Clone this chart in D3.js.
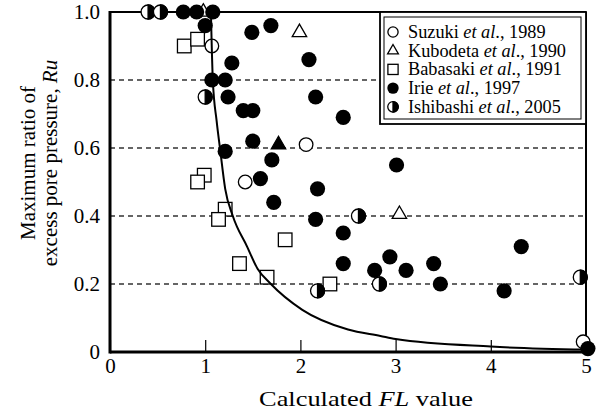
<!DOCTYPE html>
<html lang="en">
<head>
    <meta charset="UTF-8">
    <title>Ru vs FL</title>
    <script src="https://d3js.org/d3.v7.min.js"></script>
    <style>
        body { margin: 0; background: #fff; }
        svg text { font-family: "Liberation Serif", "DejaVu Serif", serif !important; }
    </style>
</head>
<body>

    <svg width="608" height="414"></svg>

    <script>
        // Tick values for both axes
        const flTicks = [0, 1, 2, 3, 4, 5];
        const ruTicks = [0, 0.2, 0.4, 0.6, 0.8, 1.0];
        const gridRu = [0.2, 0.4, 0.6, 0.8];

        // Data: [FL, Ru]
        const suzuki = [[1.07, 0.90], [1.42, 0.50], [2.06, 0.61], [4.97, 0.03]];
        const kubodeta = [[0.98, 1.0], [1.99, 0.94], [3.04, 0.405]];
        const kubodetaDark = [[1.77, 0.61]];
        const babasaki = [
            [0.78, 0.90], [0.92, 0.92], [0.99, 0.52], [0.92, 0.50], [1.21, 0.42],
            [1.14, 0.39], [1.84, 0.33], [1.36, 0.26], [1.65, 0.22], [2.31, 0.20]
        ];
        const irie = [
            [0.77, 1.0], [0.91, 1.0], [1.08, 1.0], [1.00, 0.96], [1.28, 0.85],
            [1.07, 0.80], [1.21, 0.80], [1.24, 0.75], [1.40, 0.71], [1.50, 0.71],
            [1.49, 0.94], [1.69, 0.96], [2.09, 0.86], [2.16, 0.75], [2.45, 0.69],
            [1.50, 0.62], [1.21, 0.59], [1.70, 0.565], [1.58, 0.51], [1.72, 0.44],
            [3.01, 0.55], [2.18, 0.48], [2.16, 0.39], [2.45, 0.35], [2.45, 0.26],
            [2.94, 0.28], [2.78, 0.24], [3.11, 0.24], [3.40, 0.26], [3.47, 0.20],
            [4.32, 0.31], [4.14, 0.18], [5.02, 0.01]
        ];
        const ishibashi = [[0.40, 1.0], [0.53, 1.0], [1.00, 0.75], [2.61, 0.40], [2.18, 0.18], [2.83, 0.20], [4.94, 0.22]];

        // fitted curve, points
        const curvePts = [
            [1.06, 1.0], [1.08, 0.80], [1.12, 0.68], [1.155, 0.60], [1.21, 0.48],
            [1.29, 0.40], [1.44, 0.31], [1.55, 0.245], [1.69, 0.20], [2.02, 0.124],
            [2.5, 0.066], [2.84, 0.047], [3.0, 0.038], [4.0, 0.016], [5.0, 0.007]
        ];

        const legendItems = [
            { name: "Suzuki", year: "1989", type: "open" },
            { name: "Kubodeta", year: "1990", type: "tri" },
            { name: "Babasaki", year: "1991", type: "square" },
            { name: "Irie", year: "1997", type: "filled" },
            { name: "Ishibashi", year: "2005", type: "half" }
        ];

        const svg = d3.select("svg");
        const pLeft = 110, pRight = 586, pTop = 12, pBottom = 352;
        const serif = "'Liberation Serif', 'DejaVu Serif', serif";

        const x = d3.scaleLinear().domain([0, 5]).range([pLeft, pRight]);
        const y = d3.scaleLinear().domain([0, 1]).range([pBottom, pTop]);

        // dashed grid lines
        svg.append("g")
            .selectAll("line")
            .data(gridRu)
            .join("line")
            .attr("x1", pLeft).attr("x2", pRight)
            .attr("y1", d => y(d)).attr("y2", d => y(d))
            .attr("stroke", "#333")
            .attr("stroke-width", 1.3)
            .attr("stroke-dasharray", "5,4");

        // X axis (ticks pointing inward)
        const xAxis = svg.append("g")
            .attr("transform", `translate(0,${pBottom})`)
            .call(d3.axisBottom(x).tickValues(flTicks).tickSizeInner(-12).tickSizeOuter(0).tickPadding(6).tickFormat(d3.format("d")));
        xAxis.attr("font-family", null);
        xAxis.select(".domain").remove();
        xAxis.selectAll("line").attr("stroke", "#000").attr("stroke-width", 1.2);
        xAxis.selectAll("text").attr("font-size", 21).style("font-family", serif).attr("fill", "#000");

        // Y axis
        const yAxis = svg.append("g")
            .attr("transform", `translate(${pLeft},0)`)
            .call(d3.axisLeft(y).tickValues(ruTicks).tickSize(0).tickPadding(10).tickFormat(d => d === 0 ? "0" : d3.format(".1f")(d)));
        yAxis.attr("font-family", null);
        yAxis.select(".domain").remove();
        yAxis.selectAll("text").attr("font-size", 21).style("font-family", serif).attr("fill", "#000");

        // frame
        svg.append("line").attr("x1", pLeft).attr("x2", pLeft).attr("y1", pTop - 1).attr("y2", pBottom + 1.5).attr("stroke", "#000").attr("stroke-width", 3);
        svg.append("line").attr("x1", pLeft).attr("x2", pRight).attr("y1", pBottom).attr("y2", pBottom).attr("stroke", "#000").attr("stroke-width", 3);
        svg.append("line").attr("x1", pLeft).attr("x2", pRight).attr("y1", pTop).attr("y2", pTop).attr("stroke", "#000").attr("stroke-width", 2);
        svg.append("line").attr("x1", pRight).attr("x2", pRight).attr("y1", pTop).attr("y2", pBottom).attr("stroke", "#000").attr("stroke-width", 2);

        // legend box (double border)
        const lg = svg.append("g");
        lg.append("rect").attr("x", 380).attr("y", pTop).attr("width", pRight - 380).attr("height", 112)
            .attr("fill", "#fff").attr("stroke", "#000").attr("stroke-width", 1.8);
        lg.append("rect").attr("x", 384).attr("y", 17).attr("width", 197).attr("height", 102)
            .attr("fill", "none").attr("stroke", "#000").attr("stroke-width", 1);

        // marker helpers
        function drawMarker(g, type, cx, cy, s) {
            if (type === "filled") {
                g.append("circle").attr("cx", cx).attr("cy", cy).attr("r", 7.6 * s).attr("fill", "#000");
            } else if (type === "open") {
                g.append("circle").attr("cx", cx).attr("cy", cy).attr("r", 6.8 * s)
                    .attr("fill", "#fff").attr("stroke", "#000").attr("stroke-width", 1.3);
            } else if (type === "square") {
                const h = 6.8 * s;
                g.append("rect").attr("x", cx - h).attr("y", cy - h).attr("width", 2 * h).attr("height", 2 * h)
                    .attr("fill", "#fff").attr("stroke", "#000").attr("stroke-width", 1.3);
            } else if (type === "tri" || type === "triDark") {
                g.append("path")
                    .attr("transform", `translate(${cx},${cy})`)
                    .attr("d", d3.symbol(d3.symbolTriangle, 90 * s * s)())
                    .attr("fill", type === "tri" ? "#fff" : "#000")
                    .attr("stroke", "#000").attr("stroke-width", 1.3);
            } else if (type === "half") {
                const r = 7 * s;
                g.append("circle").attr("cx", cx).attr("cy", cy).attr("r", r)
                    .attr("fill", "#fff").attr("stroke", "#000").attr("stroke-width", 1.3);
                g.append("path")
                    .attr("d", `M${cx},${cy - r} A${r},${r} 0 0 1 ${cx},${cy + r} Z`)
                    .attr("fill", "#000").attr("stroke", "#000").attr("stroke-width", 1.3);
            }
        }

        // legend entries
        legendItems.forEach((it, i) => {
            const ly = 32 + i * 18.7;
            drawMarker(lg, it.type, 393, ly, 0.75);
            const t = lg.append("text").attr("x", 408).attr("y", ly + 6).attr("font-size", 18.3)
                .style("font-family", serif).attr("fill", "#000");
            t.append("tspan").text(it.name + " ");
            t.append("tspan").attr("font-style", "italic").text("et al");
            t.append("tspan").text("., " + it.year);
        });

        // points
        const pts = svg.append("g");
        babasaki.forEach(d => drawMarker(pts, "square", x(d[0]), y(d[1]), 1));
        kubodeta.forEach(d => drawMarker(pts, "tri", x(d[0]), y(d[1]), 1));
        kubodetaDark.forEach(d => drawMarker(pts, "triDark", x(d[0]), y(d[1]), 1));
        suzuki.forEach(d => drawMarker(pts, "open", x(d[0]), y(d[1]), 1));
        irie.forEach(d => drawMarker(pts, "filled", x(d[0]), y(d[1]), 1));
        ishibashi.forEach(d => drawMarker(pts, "half", x(d[0]), y(d[1]), 1));

        // curve
        const line = d3.line()
            .x(d => x(d[0]))
            .y(d => y(d[1]))
            .curve(d3.curveMonotoneX);
        svg.append("path")
            .datum(curvePts)
            .attr("fill", "none")
            .attr("stroke", "#000")
            .attr("stroke-width", 2)
            .attr("d", line);

        // axis titles (the source is a little wider than tall, so stretch horizontally)
        const xt = svg.append("text")
            .attr("transform", "translate(366,406) scale(1.2,1)")
            .attr("text-anchor", "middle")
            .style("font-family", serif)
            .attr("font-size", 22).attr("fill", "#000");
        xt.append("tspan").text("Calculated ");
        xt.append("tspan").attr("font-style", "italic").text("FL");
        xt.append("tspan").text(" value");

        const yt = svg.append("text")
            .attr("transform", "translate(0,163) rotate(-90)")
            .attr("text-anchor", "middle")
            .style("font-family", serif)
            .attr("font-size", 21).attr("fill", "#000");
        yt.append("tspan").attr("x", 0).attr("y", 35).text("Maximum ratio of");
        yt.append("tspan").attr("x", 0).attr("y", 57).text("excess pore pressure, ");
        yt.append("tspan").attr("font-style", "italic").text("Ru");
    </script>

</body>
</html>
